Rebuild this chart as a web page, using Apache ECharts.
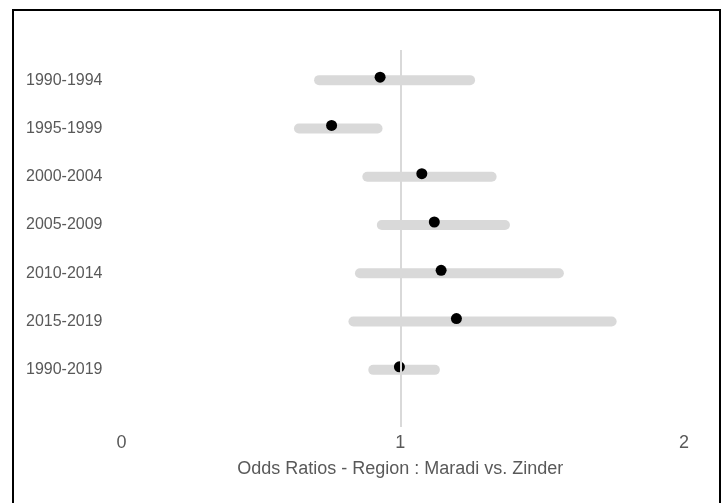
<!DOCTYPE html>
<html>
<head>
<meta charset="utf-8">
<script src="https://cdn.jsdelivr.net/npm/echarts@6/dist/echarts.min.js"></script>
<style>
  html, body { margin: 0; padding: 0; background: #fff; }
  #chart { width: 727px; height: 503px; }
</style>
</head>
<body>
<div id="chart"></div>
<script>
// Odds ratios with 95% confidence intervals, Maradi vs. Zinder, by period
const periods = ['1990-1994', '1995-1999', '2000-2004', '2005-2009', '2010-2014', '2015-2019', '1990-2019'];
const oddsRatio = [0.929, 0.758, 1.076, 1.120, 1.144, 1.198, 0.997];
const ciLower   = [0.714, 0.643, 0.884, 0.935, 0.858, 0.835, 0.905];
const ciUpper   = [1.246, 0.920, 1.322, 1.369, 1.559, 1.745, 1.122];
const xTicks = [0, 1, 2];
const refValue = 1;

const FONT = '"Liberation Sans", Arial, sans-serif';
const TEXT = '#595959';

const chart = echarts.init(document.getElementById('chart'), null, { renderer: 'canvas' });

const ciData = periods.map((p, i) => [ciLower[i], ciUpper[i], i]);
const orData = periods.map((p, i) => [oddsRatio[i], i]);

chart.setOption({
  animation: false,
  backgroundColor: '#fff',
  graphic: [{
    type: 'rect',
    shape: { x: 13, y: 10, width: 707, height: 500 },
    style: { fill: 'none', stroke: '#000', lineWidth: 2 },
    silent: true
  }],
  grid: [
    // outer frame: x scale, tick labels, axis title and reference line
    { left: 116.5, right: 43, top: 50, bottom: 76 },
    // rows for the periods
    { left: 116.5, right: 43, top: 56, bottom: 109 }
  ],
  xAxis: [
    {
      gridIndex: 0, type: 'value', min: xTicks[0], max: xTicks[xTicks.length - 1], interval: 1,
      axisLine: { show: false }, axisTick: { show: false }, splitLine: { show: false },
      axisLabel: { color: TEXT, fontFamily: FONT, fontSize: 18, margin: 7, alignMinLabel: 'left' },
      name: 'Odds Ratios - Region : Maradi vs. Zinder',
      nameLocation: 'middle', nameGap: 33,
      nameTextStyle: { color: TEXT, fontFamily: FONT, fontSize: 18 }
    },
    {
      gridIndex: 1, type: 'value', min: xTicks[0], max: xTicks[xTicks.length - 1],
      show: false
    }
  ],
  yAxis: [
    { gridIndex: 0, type: 'value', min: 0, max: 1, show: false },
    {
      gridIndex: 1, type: 'category', data: periods, inverse: true,
      axisLine: { show: false }, axisTick: { show: false }, splitLine: { show: false },
      axisLabel: { color: TEXT, fontFamily: FONT, fontSize: 16, margin: 14 }
    }
  ],
  series: [
    {
      type: 'custom',
      xAxisIndex: 1, yAxisIndex: 1,
      data: ciData,
      encode: { x: [0, 1], y: 2 },
      renderItem: function (params, api) {
        const a = api.coord([api.value(0), api.value(2)]);
        const b = api.coord([api.value(1), api.value(2)]);
        return {
          type: 'line',
          shape: { x1: a[0], y1: a[1], x2: b[0], y2: b[1] },
          style: { stroke: '#d9d9d9', lineWidth: 10, lineCap: 'round' }
        };
      },
      z: 2
    },
    {
      type: 'scatter',
      xAxisIndex: 1, yAxisIndex: 1,
      data: orData,
      symbol: 'circle', symbolSize: 11, symbolOffset: [0, -3],
      itemStyle: { color: '#000', opacity: 1 },
      z: 3
    },
    {
      type: 'scatter',
      xAxisIndex: 0, yAxisIndex: 0,
      data: [],
      z: 10,
      markLine: {
        silent: true, symbol: 'none', label: { show: false },
        lineStyle: { color: '#d9d9d9', type: 'solid', width: 2 },
        data: [{ xAxis: refValue }]
      }
    }
  ]
});
</script>
</body>
</html>
